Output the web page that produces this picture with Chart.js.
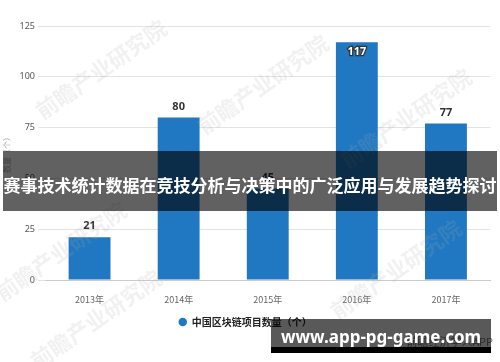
<!DOCTYPE html>
<html>
<head>
<meta charset="utf-8">
<script src="https://cdn.jsdelivr.net/npm/chart.js@4"></script>
<style>
  body { margin: 0; background: #fff; }
  #wrap { position: relative; width: 500px; height: 362px; overflow: hidden; font-family: "Noto Sans CJK SC", "Noto Sans", sans-serif; }
  canvas { position: absolute; left: 0; top: 0; }
  .wm { position: absolute; white-space: nowrap; font-size: 22px; font-weight: bold; color: rgba(170,170,170,0.17); transform: translate(-50%, -50%) rotate(-35deg); pointer-events: none; }
  #band { position: absolute; left: 3px; top: 151px; width: 494px; height: 60px; background: rgba(0,0,0,0.62); color: #fff; font-size: 17px; font-weight: bold; display: flex; align-items: center; justify-content: center; box-sizing: border-box; padding-top: 7px; white-space: nowrap; }
  #credit { position: absolute; right: 7px; top: 333px; font-size: 11px; color: #777; white-space: nowrap; }
  #site { position: absolute; left: 271px; top: 319px; width: 220px; height: 28px; background: rgba(0,0,0,0.65); }
  #siteBar { position: absolute; left: 271px; top: 347px; width: 220px; height: 6px; background: #000; }
  #siteText { position: absolute; left: 281px; top: 328px; line-height: 17px; font-family: "Noto Sans", sans-serif; font-size: 17px; font-weight: bold; color: #fff; white-space: nowrap; }
</style>
</head>
<body>
<div id="wrap">
  <canvas id="myChart" width="500" height="362"></canvas>
  <div class="wm" style="left:100px;top:68px">前瞻产业研究院</div>
  <div class="wm" style="left:262px;top:83px">前瞻产业研究院</div>
  <div class="wm" style="left:405px;top:117px">前瞻产业研究院</div>
  <div class="wm" style="left:60px;top:250px">前瞻产业研究院</div>
  <div class="wm" style="left:395px;top:268px">前瞻产业研究院</div>
  <div class="wm" style="left:95px;top:318px">前瞻产业研究院</div>
  <div id="band">赛事技术统计数据在竞技分析与决策中的广泛应用与发展趋势探讨</div>
  <div id="credit">© 前瞻经济学人APP</div>
  <div id="site"></div>
  <div id="siteBar"></div>
  <div id="siteText">www.app-pg-game.com</div>
</div>
<script>
const categories = ["2013年", "2014年", "2015年", "2016年", "2017年"];
const projectCounts = [21, 80, 45, 117, 77];
const seriesName = "中国区块链项目数量（个）";
const yMin = 0;
const yMax = 125;
const yStep = 25;

// value labels above bars (inside when there is no room at the top)
const valueLabels = {
  id: "valueLabels",
  afterDatasetsDraw(chart) {
    const ctx = chart.ctx;
    const meta = chart.getDatasetMeta(0);
    ctx.save();
    ctx.font = "bold 11px 'Noto Sans', sans-serif";
    ctx.textAlign = "center";
    ctx.textBaseline = "middle";
    meta.data.forEach((bar, i) => {
      const v = chart.data.datasets[0].data[i];
      let y = bar.y - 11;
      if (y - 6 < chart.chartArea.top) {
        y = bar.y + 10;
        ctx.lineWidth = 2.5;
        ctx.strokeStyle = "#333";
        ctx.strokeText(v, bar.x, y);
        ctx.fillStyle = "#fff";
      } else {
        ctx.fillStyle = "#333";
      }
      ctx.fillText(v, bar.x, y);
    });
    ctx.restore();
  },
};

const context = document.getElementById("myChart").getContext("2d");
const myChart = new Chart(context, {
  type: "bar",
  data: {
    labels: categories,
    datasets: [
      {
        label: seriesName,
        data: projectCounts,
        backgroundColor: "#1f78c1",
        barPercentage: 0.47,
        categoryPercentage: 1,
      },
    ],
  },
  options: {
    responsive: false,
    animation: false,
    layout: { padding: { top: 26, left: 0, right: 9.5, bottom: 25 } },
    plugins: {
      legend: {
        position: "bottom",
        labels: {
          usePointStyle: true,
          pointStyle: "circle",
          boxWidth: 8,
          boxHeight: 6,
          padding: 10,
          color: "#222",
          font: { size: 10, weight: "bold", family: "'Noto Sans CJK SC'" },
        },
      },
      tooltip: { enabled: false },
    },
    scales: {
      x: {
        grid: { display: false },
        border: { color: "#cccccc" },
        ticks: {
          padding: 6,
          color: "#666",
          font: { size: 9, family: "'Noto Sans CJK SC'" },
        },
        afterFit(scale) {
          scale.height = 27;
        },
      },
      y: {
        min: yMin,
        max: yMax,
        border: { display: false },
        grid: { color: "#e3e3e3", tickLength: 7 },
        title: {
          display: true,
          text: "数量（个）",
          color: "#aaa",
          padding: 2,
          font: { size: 8, family: "'Noto Sans CJK SC'" },
        },
        ticks: {
          stepSize: yStep,
          padding: 3,
          color: "#555",
          font: { size: 9, family: "'Noto Sans'" },
        },
        afterFit(scale) {
          scale.width = 45;
        },
      },
    },
  },
  plugins: [valueLabels],
});
</script>
</body>
</html>
